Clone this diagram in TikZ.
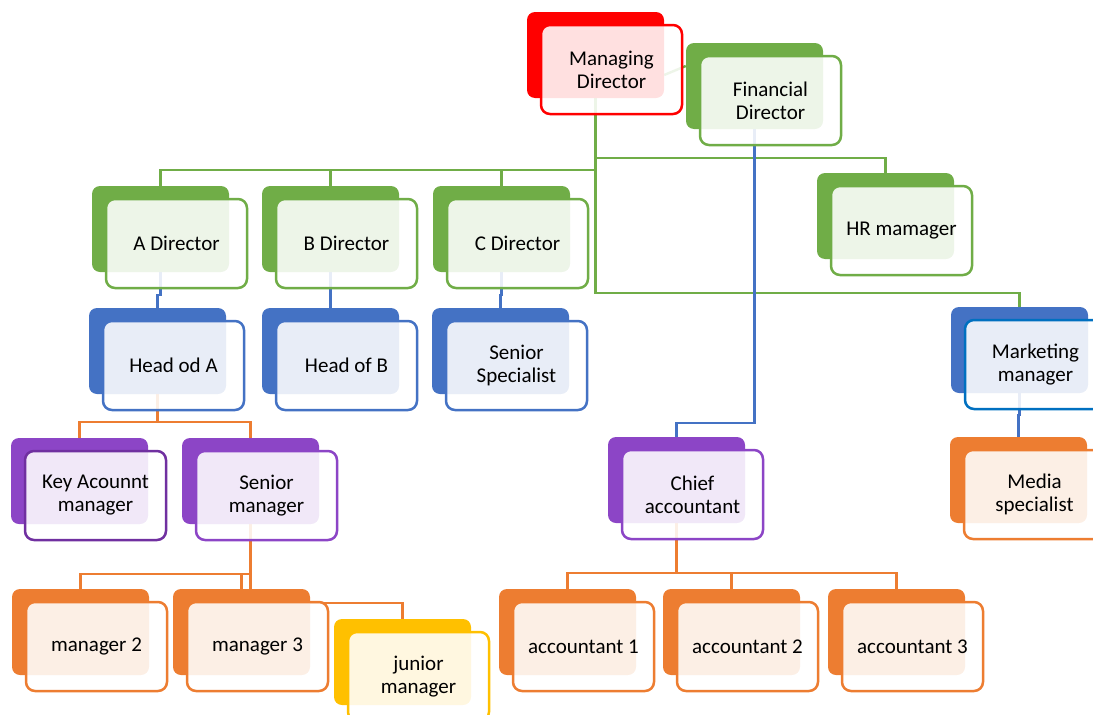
\documentclass[tikz,border=0pt]{standalone}
\usepackage{fontspec}
\setmainfont{Carlito}
\usetikzlibrary{calc,backgrounds}

\definecolor{cred}{HTML}{FF0000}
\definecolor{cgreen}{HTML}{70AD47}
\definecolor{cblue}{HTML}{4472C4}
\definecolor{cblueline}{HTML}{0070C0}
\definecolor{cpurple}{HTML}{8C45C6}
\definecolor{cpurpledark}{HTML}{7030A0}
\definecolor{corange}{HTML}{ED7D31}
\definecolor{cyellow}{HTML}{FFC000}

\tikzset{
  backbox/.style={rectangle, rounded corners=8pt, minimum width=137pt,
    minimum height=86pt, inner sep=0pt, draw=none},
  frontbox/.style={rectangle, rounded corners=9pt, minimum width=141pt,
    minimum height=89pt, inner sep=0pt, fill=white, fill opacity=0.88,
    text opacity=1, draw opacity=1, line width=2.5pt, align=center,
    text=black, font=\fontsize{21}{23}\selectfont},
  conn/.style={line width=2.4pt},
}

% one chart unit: a solid tab behind a framed, translucent label card
% #1 name, #2 tab colour, #3 frame colour, #4,#5 top-left of tab, #6 label
\newcommand\orgunit[6]{%
  \node[backbox, fill=#2] (#1-back) at (#4+68.5, #5+43) {};
  \node[frontbox, draw=#3] (#1) at (#4+84.5, #5+57.5) {#6};
}

\begin{document}
\begin{tikzpicture}[x=1pt, y=-1pt]
\useasboundingbox (0,0) rectangle (1093,715);

\orgunit{md}{cred}{cred}{527}{12}{Managing\\Director}
\orgunit{fd}{cgreen}{cgreen}{686}{43}{Financial\\Director}
\orgunit{adir}{cgreen}{cgreen}{92}{186}{A Director}
\orgunit{bdir}{cgreen}{cgreen}{262}{186}{B Director}
\orgunit{cdir}{cgreen}{cgreen}{433}{186}{C Director}
\orgunit{hr}{cgreen}{cgreen}{817}{173}{HR mamager}
\orgunit{heada}{cblue}{cblue}{89}{308}{Head od A}
\orgunit{headb}{cblue}{cblue}{262}{308}{Head of B}
\orgunit{spec}{cblue}{cblue}{432}{308}{Senior\\Specialist}
\orgunit{mkt}{cblue}{cblueline}{951}{307}{Marketing\\manager}
\orgunit{key}{cpurple}{cpurpledark}{11}{438}{Key Acounnt\\manager}
\orgunit{srm}{cpurple}{cpurple}{182}{438}{Senior\\manager}
\orgunit{chief}{cpurple}{cpurple}{608}{437}{Chief\\accountant}
\orgunit{media}{corange}{corange}{950}{437}{Media\\specialist}
\orgunit{m2}{corange}{corange}{12}{589}{manager 2}
\orgunit{m3}{corange}{corange}{173}{589}{manager 3}
\orgunit{jm}{cyellow}{cyellow}{334}{619}{junior\\manager}
\orgunit{acc1}{corange}{corange}{499}{589}{accountant 1}
\orgunit{acc2}{corange}{corange}{663}{589}{accountant 2}
\orgunit{acc3}{corange}{corange}{828}{589}{accountant 3}

% bus levels
\coordinate (busHR) at (0,158);
\coordinate (busDir) at (0,170);
\coordinate (busMkt) at (0,293);
\coordinate (busFin) at (0,423);
\coordinate (busHeadA) at (0,422);
\coordinate (busSrm) at (0,574);
\coordinate (busJm) at (0,603);
\coordinate (busAcc) at (0,573);

\begin{scope}[on background layer]
  % managing director and direct reports
  \draw[conn, cgreen] (md-back.south) -- (md-back.south |- busMkt) -| (mkt-back.north);
  \draw[conn, cgreen] (md-back.south |- busHR) -| (hr-back.north);
  \draw[conn, cgreen] (md-back.south |- busDir) -| (adir-back.north);
  \draw[conn, cgreen] (bdir-back.north) -- (bdir-back.north |- busDir);
  \draw[conn, cgreen] (cdir-back.north) -- (cdir-back.north |- busDir);
  \draw[conn, cgreen] ($(md-back.east)+(0,20)$) -- ($(fd-back.west)+(0,-20)$);

  % financial line
  \draw[conn, cblue] (fd-back.south) -- (fd-back.south |- busFin) -| (chief-back.north);

  % directors to heads
  \draw[conn, cblue] (adir-back.south) -- ++(0,23) -| (heada-back.north);
  \draw[conn, cblue] (bdir-back.south) -- (headb-back.north);
  \draw[conn, cblue] (cdir-back.south) -- ++(0,23) -| (spec-back.north);
  \draw[conn, cblue] (mkt-back.south) -- ++(0,22) -| (media-back.north);

  % head of A team
  \draw[conn, corange] (heada-back.south) -- (heada-back.south |- busHeadA) -| (key-back.north);
  \draw[conn, corange] (heada-back.south |- busHeadA) -| (srm-back.north);

  % senior manager team
  \draw[conn, corange] (srm-back.south) -- (srm-back.south |- busJm) -| (jm-back.north);
  \draw[conn, corange] (srm-back.south |- busSrm) -| (m2-back.north);
  \draw[conn, corange] (m3-back.north) -- (m3-back.north |- busSrm);

  % accounting team
  \draw[conn, corange] (chief-back.south) -- (chief-back.south |- busAcc) -| (acc1-back.north);
  \draw[conn, corange] (chief-back.south |- busAcc) -| (acc3-back.north);
  \draw[conn, corange] (acc2-back.north) -- (acc2-back.north |- busAcc);
\end{scope}
\end{tikzpicture}
\end{document}
